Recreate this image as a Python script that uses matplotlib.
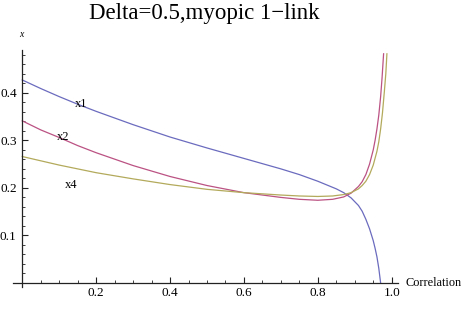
import matplotlib
matplotlib.use("Agg")
import matplotlib.pyplot as plt
from matplotlib.ticker import MultipleLocator, FixedLocator

# Data (Correlation vs x)
x1_rho = [0.0, 0.05, 0.1, 0.15, 0.2, 0.3, 0.4, 0.5, 0.6, 0.7, 0.75, 0.8, 0.85,
          0.87, 0.89, 0.91, 0.92, 0.93, 0.94, 0.95, 0.955, 0.96, 0.965, 0.97]
x1_val = [0.427, 0.409, 0.392, 0.376, 0.361, 0.333, 0.307, 0.284, 0.262, 0.240,
          0.228, 0.214, 0.198, 0.190, 0.179, 0.163, 0.151, 0.134, 0.114, 0.089,
          0.073, 0.055, 0.031, 0.0]

x2_rho = [0.0, 0.05, 0.1, 0.15, 0.2, 0.3, 0.4, 0.5, 0.6, 0.7, 0.75, 0.8, 0.84,
          0.87, 0.89, 0.91, 0.92, 0.93, 0.94, 0.95, 0.955, 0.96, 0.965, 0.97,
          0.974, 0.978]
x2_val = [0.341, 0.322, 0.306, 0.289, 0.274, 0.247, 0.224, 0.205, 0.190, 0.180,
          0.176, 0.174, 0.176, 0.181, 0.189, 0.203, 0.213, 0.228, 0.250, 0.280,
          0.300, 0.324, 0.353, 0.392, 0.433, 0.482]

x4_rho = [0.0, 0.05, 0.1, 0.15, 0.2, 0.3, 0.4, 0.5, 0.6, 0.7, 0.75, 0.8, 0.84,
          0.87, 0.89, 0.91, 0.92, 0.93, 0.94, 0.95, 0.96, 0.965, 0.97, 0.975,
          0.98, 0.984, 0.987]
x4_val = [0.266, 0.257, 0.248, 0.240, 0.232, 0.219, 0.207, 0.197, 0.190, 0.185,
          0.183, 0.182, 0.183, 0.186, 0.190, 0.198, 0.205, 0.214, 0.228, 0.248,
          0.277, 0.297, 0.324, 0.358, 0.402, 0.440, 0.482]

series_names = ["x1", "x2", "x4"]
label_pos = [(0.160, 0.377), (0.112, 0.306), (0.133, 0.207)]
colors = ["#6b6bbf", "#bb5283", "#b3aa5c"]

x_major = [0.2, 0.4, 0.6, 0.8, 1.0]
y_major = [0.1, 0.2, 0.3, 0.4]

serif = ["Liberation Serif", "DejaVu Serif"]

fig = plt.figure(figsize=(4.62, 3.10), dpi=100)
ax = fig.add_axes([13/462, 23/310, (398-13)/462, (287-50)/310])

for xs, ys, c in zip([x1_rho, x2_rho, x4_rho], [x1_val, x2_val, x4_val], colors):
    ax.plot(xs, ys, color=c, lw=0.9, solid_joinstyle="round")

for name, (lx, ly) in zip(series_names, label_pos):
    ax.text(lx, ly, name, fontsize=9, family=serif, ha="center", va="center")

ax.set_xlim(-0.025, 1.017)
ax.set_ylim(-0.0084, 0.49)

for s in ["top", "right"]:
    ax.spines[s].set_visible(False)
ax.spines["left"].set_position(("data", 0))
ax.spines["bottom"].set_position(("data", 0))
for s in ["left", "bottom"]:
    ax.spines[s].set_linewidth(0.9)
    ax.spines[s].set_color("#222222")

ax.xaxis.set_major_locator(FixedLocator(x_major))
ax.yaxis.set_major_locator(FixedLocator(y_major))
ax.xaxis.set_minor_locator(MultipleLocator(0.05))
ax.yaxis.set_minor_locator(MultipleLocator(0.02))
ax.set_xticklabels([f"{v:.1f}" for v in x_major], family=serif, fontsize=9.5)
ax.set_yticklabels([f"{v:.1f}" for v in y_major], family=serif, fontsize=9.5)
ax.tick_params(which="major", direction="in", length=4, width=0.8, color="#222222", pad=3)
ax.tick_params(which="minor", direction="in", length=2.5, width=0.6, color="#222222")
ax.tick_params(axis="y", which="major", pad=4)

fig.text(204.5/462, 1 - 13/310, "Delta=0.5,myopic 1\u2212link", family=serif,
         fontsize=16.5, ha="center", va="center")
fig.text(21/462, 1 - 34.5/310, "x", family=serif, style="italic", fontsize=7,
         ha="center", va="center")
fig.text(405/462, 1 - 282.5/310, "Correlation", family=serif, fontsize=8.8,
         ha="left", va="center")

fig.savefig("out.png", dpi=100)
